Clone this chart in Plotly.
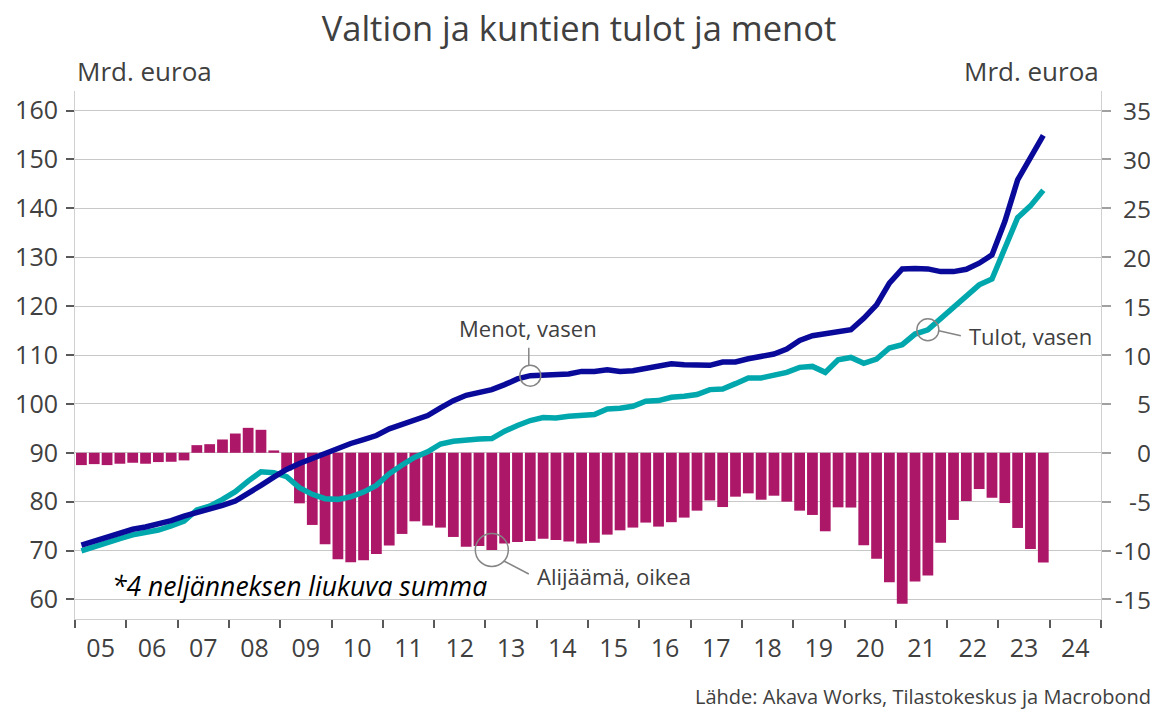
import plotly.graph_objects as go

# ---------------- data ----------------
years = list(range(2005, 2024))
quarters = [1, 2, 3, 4]

# Menot (expenditure), bn EUR, 4-quarter moving sum, left axis
menot = [
    71.1, 71.96, 72.78, 73.6,
    74.35, 74.82, 75.37, 76.12,
    77.06, 77.76, 78.29, 79.24,
    80.13, 81.63, 83.33, 85.03,
    86.6, 87.8, 88.8, 89.85,
    91.02, 91.9, 92.71, 93.53,
    94.9, 95.78, 96.45, 97.61,
    99.18, 100.67, 101.76, 102.24,
    102.92, 103.94, 105.1, 105.78,
    105.9, 105.85, 106.12, 106.65,
    106.65, 107.0, 106.65, 106.8,
    107.35, 107.67, 108.22, 108.02,
    107.82, 107.88, 108.57, 108.57,
    109.24, 109.86, 110.2, 111.22,
    112.98, 113.94, 114.35, 114.49,
    115.16, 117.5, 120.27, 124.69,
    127.61, 127.68, 127.61, 127.06,
    127.06, 127.54, 128.78, 130.47,
    137.3, 145.8, 150.3, 154.9,
]

# Tulot (revenue), bn EUR, left axis
tulot = [
    69.92, 70.82, 71.63, 72.45,
    73.2, 73.67, 74.2, 75.02,
    76.04, 78.29, 79.1, 80.47,
    82.04, 84.2, 86.12, 85.92,
    85.1, 82.86, 81.5, 80.61,
    80.47, 81.0, 81.96, 83.33,
    85.7, 87.5, 89.1, 90.2,
    91.8, 92.37, 92.45, 92.8,
    92.9, 94.41, 95.57, 96.59,
    97.2, 97.1, 97.47, 97.67,
    97.82, 98.98, 99.1, 99.51,
    100.53, 100.67, 101.35, 101.55,
    101.9, 102.92, 103.06, 104.14,
    105.31, 105.31, 105.84, 106.45,
    107.47, 107.67, 106.45, 109.04,
    109.5, 108.3, 109.18, 111.43,
    112.1, 114.29, 115.16, 117.41,
    119.71, 121.96, 124.35, 125.55,
    131.9, 138.1, 140.5, 143.7,
]

# Alijäämä (deficit), bn EUR, right axis
alijaama = [
    -1.26, -1.16, -1.26, -1.12,
    -1.02, -1.12, -0.95, -0.92,
    -0.78, 0.78, 0.88, 1.36,
    1.97, 2.55, 2.35, 0.24,
    -1.8, -5.17, -7.38, -9.36,
    -10.89, -11.19, -10.99, -10.35,
    -9.49, -8.3, -7.01, -7.45,
    -7.65, -8.61, -9.6, -9.53,
    -9.94, -9.29, -9.12, -9.02,
    -8.78, -8.91, -9.08, -9.29,
    -9.19, -8.37, -7.93, -7.65,
    -7.14, -7.55, -7.1, -6.63,
    -5.92, -4.87, -5.55, -4.49,
    -4.15, -4.8, -4.39, -5.0,
    -5.92, -6.36, -8.03, -5.58,
    -5.6, -9.46, -10.85, -13.24,
    -15.45, -13.17, -12.55, -9.19,
    -6.87, -4.93, -3.71, -4.6,
    -5.14, -7.69, -9.83, -11.23,
]

x_tick_years = list(range(2005, 2025))
x_tick_labels = [f"{y % 100:02d}" for y in x_tick_years]
left_ticks = list(range(60, 161, 10))
right_ticks = list(range(-15, 36, 5))
right_tick_labels = [str(v) for v in right_ticks]

# quarter positions on a numeric year axis (centre of each quarter)
xq = [y + (q - 0.5) / 4 for y in years for q in quarters]

NAVY = "#0a0a9a"
TEAL = "#00a8ad"
BAR = "#ad1768"
TXT = "#404040"
FONT = "Open Sans"
TICK = 25

# the page places the figure 8 px from its top-left corner
W, H = 1150, 701

fig = go.Figure()

fig.add_trace(go.Bar(
    x=xq, y=alijaama, yaxis="y", marker=dict(color=BAR, line=dict(width=0)),
    name="Alijäämä, oikea", showlegend=False,
))
fig.add_trace(go.Scatter(
    x=xq, y=tulot, yaxis="y2", mode="lines",
    line=dict(color=TEAL, width=5.5), name="Tulot, vasen", showlegend=False,
))
fig.add_trace(go.Scatter(
    x=xq, y=menot, yaxis="y2", mode="lines",
    line=dict(color=NAVY, width=5.5), name="Menot, vasen", showlegend=False,
))

fig.update_layout(
    width=W, height=H,
    margin=dict(l=67, r=57, t=83, b=90, autoexpand=False),
    paper_bgcolor="white", plot_bgcolor="white",
    bargap=0.16,
    font=dict(family=FONT, color=TXT, size=22),
    title=dict(
        text="Valtion ja kuntien tulot ja menot",
        x=571 / W, xref="container", xanchor="center",
        y=1 - 21 / H, yref="container", yanchor="middle",
        font=dict(family=FONT, size=34.5, color=TXT),
    ),
    xaxis=dict(
        range=[2005, 2025], tickmode="array",
        tickvals=[y + 0.5 for y in x_tick_years], ticktext=x_tick_labels,
        ticks="", showgrid=False, zeroline=False, automargin=False,
        showline=True, linecolor="#d0d0d0", linewidth=1,
        tickfont=dict(size=TICK, color=TXT),
        ticklabelstandoff=7,
        minor=dict(tickmode="array", tickvals=list(range(2005, 2026)),
                   ticks="outside", ticklen=8, tickcolor="#595959", tickwidth=1.5,
                   showgrid=False),
    ),
    yaxis=dict(
        side="right", range=[-17, 37], tickmode="array", tickvals=right_ticks,
        ticks="outside", ticklen=9, tickcolor="#a0a0a0", tickwidth=1.5,
        showgrid=True, gridcolor="#c8c8c8", gridwidth=1, automargin=False,
        zeroline=False, showline=True, linecolor="#d0d0d0", linewidth=1,
        showticklabels=False,
    ),
    yaxis2=dict(
        overlaying="y", side="left", range=[56, 164], tickmode="array",
        tickvals=left_ticks, ticks="outside", ticklen=8, tickcolor="#595959",
        tickwidth=1.5, showgrid=False, zeroline=False, automargin=False,
        showline=True, linecolor="#d0d0d0", linewidth=1,
        tickfont=dict(size=TICK, color=TXT), ticklabelstandoff=3,
    ),
)

annots = [
    dict(text="Mrd. euroa", xref="paper", yref="paper", x=0, y=1.037,
         xanchor="left", yanchor="middle", showarrow=False,
         font=dict(size=26, color=TXT)),
    dict(text="Mrd. euroa", xref="paper", yref="paper", x=1, y=1.037,
         xanchor="right", yanchor="middle", showarrow=False,
         font=dict(size=26, color=TXT)),
    dict(text="Lähde: Akava Works, Tilastokeskus ja Macrobond", xref="paper", yref="paper",
         x=1.0507, y=-0.147, xanchor="right", yanchor="middle", showarrow=False,
         font=dict(size=20, color=TXT)),
    dict(text="<i>*4 neljänneksen liukuva summa</i>", xref="x", yref="y2",
         x=2005.68, y=62.7, xanchor="left", yanchor="middle", showarrow=False,
         font=dict(size=26.5, color="black")),
    dict(text="Menot, vasen", xref="x", yref="y2", x=2013.83, y=115.57,
         xanchor="center", yanchor="middle", showarrow=False,
         font=dict(size=22, color=TXT)),
    dict(text="Tulot, vasen", xref="x", yref="y2", x=2022.39, y=113.9,
         xanchor="left", yanchor="middle", showarrow=False,
         font=dict(size=22, color=TXT)),
    dict(text="Alijäämä, oikea", xref="x", yref="y", x=2013.97, y=-12.6,
         xanchor="left", yanchor="middle", showarrow=False,
         font=dict(size=22, color=TXT)),
]
# right-axis tick labels, right-aligned as in the original
for v, t in zip(right_ticks, right_tick_labels):
    annots.append(dict(text=t, xref="paper", yref="y", x=(1153 - 75) / 1026, y=v,
                       xanchor="right", yanchor="middle", showarrow=False,
                       font=dict(size=24.5, color=TXT)))
fig.update_layout(annotations=annots)

GREY = "#858585"
i_men = 35   # 2013 Q4
i_tul = 66   # 2021 Q3
i_ali = 32   # 2013 Q1
shapes = [
    dict(type="circle", xref="x", yref="y2", xsizemode="pixel", ysizemode="pixel",
         xanchor=xq[i_men], yanchor=menot[i_men], x0=-10.5, x1=10.5, y0=-10.5, y1=10.5,
         line=dict(color=GREY, width=1.5)),
    dict(type="line", xref="x", yref="y2", xsizemode="pixel", ysizemode="pixel",
         xanchor=xq[i_men], yanchor=menot[i_men], x0=-1.5, x1=-1.5, y0=10.5, y1=28,
         line=dict(color=GREY, width=1.5)),
    dict(type="circle", xref="x", yref="y2", xsizemode="pixel", ysizemode="pixel",
         xanchor=xq[i_tul], yanchor=tulot[i_tul], x0=-11, x1=11, y0=-11, y1=11,
         line=dict(color=GREY, width=1.5)),
    dict(type="line", xref="x", yref="y2", xsizemode="pixel", ysizemode="pixel",
         xanchor=xq[i_tul], yanchor=tulot[i_tul], x0=11, x1=33, y0=-1, y1=-6,
         line=dict(color=GREY, width=1.5)),
    dict(type="circle", xref="x", yref="y", xsizemode="pixel", ysizemode="pixel",
         xanchor=xq[i_ali], yanchor=alijaama[i_ali], x0=-16.5, x1=16.5, y0=-16.5, y1=16.5,
         line=dict(color=GREY, width=1.5)),
    dict(type="line", xref="x", yref="y", xsizemode="pixel", ysizemode="pixel",
         xanchor=xq[i_ali], yanchor=alijaama[i_ali], x0=12, x1=37, y0=-11, y1=-24,
         line=dict(color=GREY, width=1.5)),
]
fig.update_layout(shapes=shapes)

fig.write_html("out.html")
